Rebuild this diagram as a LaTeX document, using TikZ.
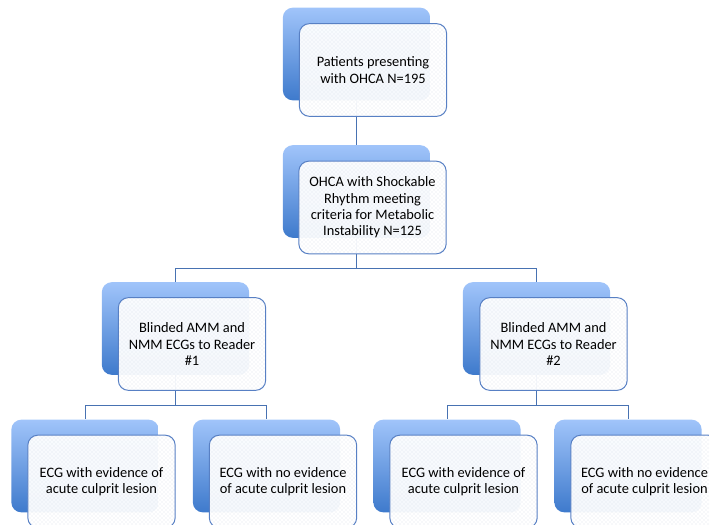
\documentclass[tikz,border=0pt]{standalone}
\usepackage{fontspec}
\setmainfont{Carlito}
\usetikzlibrary{patterns}

\definecolor{boxtop}{RGB}{160,196,250}
\definecolor{boxbot}{RGB}{62,122,204}
\definecolor{frontline}{RGB}{88,128,196}
\definecolor{linkcol}{RGB}{72,114,178}
\definecolor{dotcol}{RGB}{222,228,236}

\pgfdeclarelayer{bg}
\pgfsetlayers{bg,main}

\tikzset{
  backbox/.style={rounded corners=7.5pt, minimum width=110.5pt, minimum height=69.5pt,
    top color=boxtop, bottom color=boxbot, inner sep=0pt},
  frontbox/.style={rounded corners=7.5pt, minimum width=110.5pt, minimum height=69.5pt,
    draw=frontline, line width=0.75pt, preaction={fill=white, fill opacity=0.95},
    pattern=crosshatch dots, pattern color=dotcol, align=center, inner sep=2pt,
    font=\fontsize{10.8}{12.2}\selectfont},
  link/.style={draw=linkcol, line width=0.75pt}
}

\begin{document}
\begin{tikzpicture}[x=0.75pt, y=-0.75pt]
    \useasboundingbox (0,0) rectangle (709,524);
    \clip (0,0) rectangle (709,524);

    % 第一层：全部患者
    \node[backbox] (top-b) at (356.5,54) {};
    \node[frontbox] (top) at (373,70) {Patients presenting\\with OHCA N=195};

    % 第二层：可电击心律
    \node[backbox] (mid-b) at (356.5,191.5) {};
    \node[frontbox] (mid) at (372.5,207.5) {OHCA with Shockable\\Rhythm meeting\\criteria for Metabolic\\Instability N=125};

    % 第三层：两位读者
    \node[backbox] (r1-b) at (175.5,328.5) {};
    \node[frontbox] (r1) at (192,344) {Blinded AMM and\\NMM ECGs to Reader\\\#1};
    \node[backbox] (r2-b) at (536.5,328.5) {};
    \node[frontbox] (r2) at (553.5,344) {Blinded AMM and\\NMM ECGs to Reader\\\#2};

    % 第四层：ECG 结果
    \node[backbox] (r1a-b) at (85,466) {};
    \node[frontbox] (r1a) at (101.5,481.5) {ECG with evidence of\\acute culprit lesion};
    \node[backbox] (r1b-b) at (266.5,466) {};
    \node[frontbox] (r1b) at (283,481.5) {ECG with no evidence\\of acute culprit lesion};
    \node[backbox] (r2a-b) at (447,466) {};
    \node[frontbox] (r2a) at (463.5,481.5) {ECG with evidence of\\acute culprit lesion};
    \node[backbox] (r2b-b) at (628,466) {};
    \node[frontbox] (r2b) at (644.5,481.5) {ECG with no evidence\\of acute culprit lesion};

    % 分叉点
    \coordinate (split1) at (356.5,268);
    \coordinate (split2) at (175.5,405);
    \coordinate (split3) at (536.5,405);

    % 连接线画在底层
    \begin{pgfonlayer}{bg}
        \draw[link] (top-b.south) -- (mid-b.north);
        \draw[link] (mid-b.south) -- (split1);
        \draw[link] (split1) -| (r1-b.north);
        \draw[link] (split1) -| (r2-b.north);
        \draw[link] (r1-b.south) -- (split2);
        \draw[link] (split2) -| (r1a-b.north);
        \draw[link] (split2) -| (r1b-b.north);
        \draw[link] (r2-b.south) -- (split3);
        \draw[link] (split3) -| (r2a-b.north);
        \draw[link] (split3) -| (r2b-b.north);
    \end{pgfonlayer}
\end{tikzpicture}
\end{document}
